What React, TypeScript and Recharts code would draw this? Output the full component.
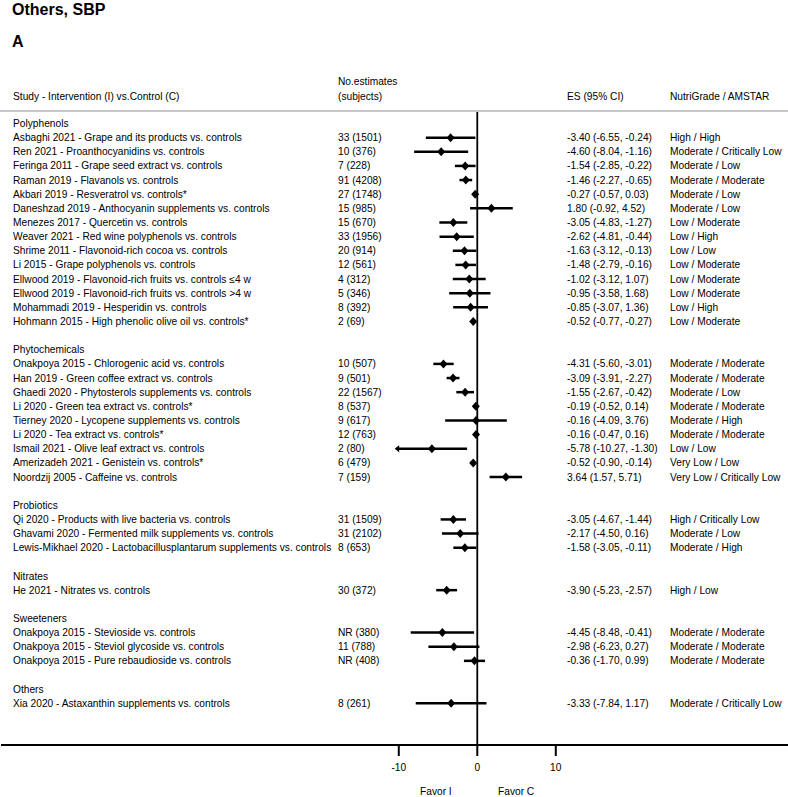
import React from "react";
import {
  ScatterChart,
  Scatter,
  XAxis,
  YAxis,
  ErrorBar,
  ReferenceLine,
} from "recharts";

const groups = ["Polyphenols", "Phytochemicals", "Probiotics", "Nitrates", "Sweeteners", "Others"];
const groupSizes = [14, 9, 3, 1, 3, 1];

const studies = [
  "Asbaghi 2021 - Grape and its products vs. controls",
  "Ren 2021 - Proanthocyanidins vs. controls",
  "Feringa 2011 - Grape seed extract vs. controls",
  "Raman 2019 - Flavanols vs. controls",
  "Akbari 2019 - Resveratrol vs. controls*",
  "Daneshzad 2019 - Anthocyanin supplements vs. controls",
  "Menezes 2017 - Quercetin vs. controls",
  "Weaver 2021 - Red wine polyphenols vs. controls",
  "Shrime 2011 - Flavonoid-rich cocoa vs. controls",
  "Li 2015 - Grape polyphenols vs. controls",
  "Ellwood 2019 - Flavonoid-rich fruits vs. controls  \u22644 w",
  "Ellwood 2019 - Flavonoid-rich fruits vs. controls >4 w",
  "Mohammadi 2019 - Hesperidin vs. controls",
  "Hohmann 2015 - High phenolic olive oil vs. controls*",
  "Onakpoya 2015 - Chlorogenic acid vs. controls",
  "Han 2019 - Green coffee extract vs. controls",
  "Ghaedi 2020 - Phytosterols supplements vs. controls",
  "Li 2020 - Green tea extract vs. controls*",
  "Tierney 2020 - Lycopene supplements vs. controls",
  "Li 2020 - Tea extract vs. controls*",
  "Ismail 2021 - Olive leaf extract vs. controls",
  "Amerizadeh 2021 - Genistein vs. controls*",
  "Noordzij 2005 - Caffeine vs. controls",
  "Qi 2020 - Products with live bacteria vs. controls",
  "Ghavami 2020 - Fermented milk supplements vs. controls",
  "Lewis-Mikhael 2020 - Lactobacillusplantarum supplements vs. controls",
  "He 2021 - Nitrates vs. controls",
  "Onakpoya 2015 - Stevioside vs. controls",
  "Onakpoya 2015 - Steviol glycoside vs. controls",
  "Onakpoya 2015 - Pure rebaudioside vs. controls",
  "Xia 2020 - Astaxanthin supplements vs. controls",
];

const estimates = [
  "33 (1501)", "10 (376)", "7 (228)", "91 (4208)", "27 (1748)", "15 (985)", "15 (670)",
  "33 (1956)", "20 (914)", "12 (561)", "4 (312)", "5 (346)", "8 (392)", "2 (69)",
  "10 (507)", "9 (501)", "22 (1567)", "8 (537)", "9 (617)", "12 (763)", "2 (80)", "6 (479)", "7 (159)",
  "31 (1509)", "31 (2102)", "8 (653)",
  "30 (372)",
  "NR (380)", "11 (788)", "NR (408)",
  "8 (261)",
];

const es = [
  -3.4, -4.6, -1.54, -1.46, -0.27, 1.8, -3.05, -2.62, -1.63, -1.48, -1.02, -0.95, -0.85, -0.52,
  -4.31, -3.09, -1.55, -0.19, -0.16, -0.16, -5.78, -0.52, 3.64,
  -3.05, -2.17, -1.58,
  -3.9,
  -4.45, -2.98, -0.36,
  -3.33,
];
const ciLow = [
  -6.55, -8.04, -2.85, -2.27, -0.57, -0.92, -4.83, -4.81, -3.12, -2.79, -3.12, -3.58, -3.07, -0.77,
  -5.6, -3.91, -2.67, -0.52, -4.09, -0.47, -10.27, -0.9, 1.57,
  -4.67, -4.5, -3.05,
  -5.23,
  -8.48, -6.23, -1.7,
  -7.84,
];
const ciHigh = [
  -0.24, -1.16, -0.22, -0.65, 0.03, 4.52, -1.27, -0.44, -0.13, -0.16, 1.07, 1.68, 1.36, -0.27,
  -3.01, -2.27, -0.42, 0.14, 3.76, 0.16, -1.3, -0.14, 5.71,
  -1.44, 0.16, -0.11,
  -2.57,
  -0.41, 0.27, 0.99,
  1.17,
];

const grades = [
  "High / High", "Moderate / Critically Low", "Moderate / Low", "Moderate / Moderate",
  "Moderate / Low", "Moderate / Low", "Low / Moderate", "Low / High", "Low / Low",
  "Low / Moderate", "Low / Moderate", "Low / Moderate", "Low / High", "Low / Moderate",
  "Moderate / Moderate", "Moderate / Moderate", "Moderate / Low", "Moderate / Moderate",
  "Moderate / High", "Moderate / Moderate", "Low / Low", "Very Low / Low", "Very Low / Critically Low",
  "High / Critically Low", "Moderate / Low", "Moderate / High",
  "High / Low",
  "Moderate / Moderate", "Moderate / Moderate", "Moderate / Moderate",
  "Moderate / Critically Low",
];

const xTicks = [-10, 0, 10];

const FONT = "'Liberation Sans', Arial, sans-serif";
const fmt = (v: number) => v.toFixed(2);

// row layout: group header, its studies, then an empty row
type Row = { row: number; header?: string; study?: number };
const rows: Row[] = [];
const points: any[] = [];
const arrows: any[] = [];
{
  let r = 0;
  let s = 0;
  groups.forEach((g, gi) => {
    rows.push({ row: r++, header: g });
    for (let k = 0; k < groupSizes[gi]; k++) {
      rows.push({ row: r, study: s });
      points.push({ row: r, es: es[s], err: [es[s] - ciLow[s], ciHigh[s] - es[s]] });
      // CI running past the -10 edge gets an arrow head
      if (ciLow[s] < -10) arrows.push({ row: r, es: ciLow[s] });
      r++;
      s++;
    }
    r++;
  });
}
const rowTicks = rows.map((d) => d.row);
const rowByIdx: Record<number, Row> = {};
rows.forEach((d) => (rowByIdx[d.row] = d));

const renderRowTick = (props: any) => {
  const { y, payload } = props;
  const info = rowByIdx[Math.round(payload.value)];
  if (!info) return <g />;
  const t = { fontSize: 10.2, fontFamily: FONT, fill: "#000", dy: "0.35em" };
  if (info.header) {
    return (
      <text x={13} y={y} {...t}>
        {info.header}
      </text>
    );
  }
  const i = info.study!;
  return (
    <g>
      <text x={13} y={y} {...t}>{studies[i]}</text>
      <text x={338} y={y} {...t}>{estimates[i]}</text>
      <text x={567} y={y} {...t}>{`${fmt(es[i])} (${fmt(ciLow[i])}, ${fmt(ciHigh[i])})`}</text>
      <text x={670} y={y} {...t}>{grades[i]}</text>
    </g>
  );
};

const Diamond = (props: any) => {
  const { cx, cy } = props;
  return (
    <polygon
      points={`${cx - 4},${cy} ${cx},${cy - 4.5} ${cx + 4},${cy} ${cx},${cy + 4.5}`}
      fill="#000"
    />
  );
};

const Arrow = (props: any) => {
  const { cx, cy } = props;
  return (
    <polygon points={`${cx - 2},${cy} ${cx + 2.5},${cy - 3.5} ${cx + 2.5},${cy + 3.5}`} fill="#000" />
  );
};

const label = (text: string, x: number, y: number, extra: React.CSSProperties = {}) => (
  <div
    style={{
      position: "absolute",
      left: x,
      top: y - 8,
      lineHeight: "16px",
      fontSize: 10.2,
      fontFamily: FONT,
      whiteSpace: "nowrap",
      color: "#000",
      zIndex: 2,
      ...extra,
    }}
  >
    {text}
  </div>
);

export default function App() {
  return (
    <div style={{ position: "absolute", left: 0, top: 0, width: 788, height: 797, background: "#fff" }}>
      {label("Others, SBP", 12, 10, { fontSize: 16, fontWeight: 700, lineHeight: "20px", top: 0 })}
      {label("A", 12, 42, { fontSize: 16, fontWeight: 700, lineHeight: "20px", top: 32 })}
      {label("No.estimates", 338, 82)}
      {label("(subjects)", 338, 97)}
      {label("Study - Intervention (I) vs.Control (C)", 13, 97)}
      {label("ES (95% CI)", 567, 97)}
      {label("NutriGrade / AMSTAR", 670, 97)}
      <div style={{ position: "absolute", left: 0, top: 110, width: 788, height: 2, background: "#c8c8c8", zIndex: 2 }} />
      {label("Favor I", 420, 792)}
      {label("Favor C", 498, 792)}
      <ScatterChart width={788} height={797} margin={{ top: 112, right: 0, bottom: 0, left: 0 }}>
        <XAxis
          type="number"
          dataKey="es"
          domain={[-60.67, 39.58]}
          allowDataOverflow
          ticks={xTicks}
          height={52}
          axisLine={{ stroke: "#000", strokeWidth: 2 }}
          tickLine={{ stroke: "#000", strokeWidth: 2 }}
          tickSize={11}
          tickMargin={8}
          tick={{ fill: "#000", fontSize: 10.2, fontFamily: FONT }}
        />
        <YAxis
          type="number"
          dataKey="row"
          domain={[-0.813, 43.95]}
          allowDataOverflow
          reversed
          ticks={rowTicks}
          interval={0}
          width={1}
          axisLine={false}
          tickLine={false}
          tick={renderRowTick}
        />
        <ReferenceLine x={0} stroke="#000" strokeWidth={1.8} />
        <Scatter data={points} shape={<Diamond />} isAnimationActive={false}>
          <ErrorBar dataKey="err" direction="x" width={0} stroke="#000" strokeWidth={2.5} />
        </Scatter>
        <Scatter data={arrows} shape={<Arrow />} isAnimationActive={false} />
      </ScatterChart>
    </div>
  );
}
